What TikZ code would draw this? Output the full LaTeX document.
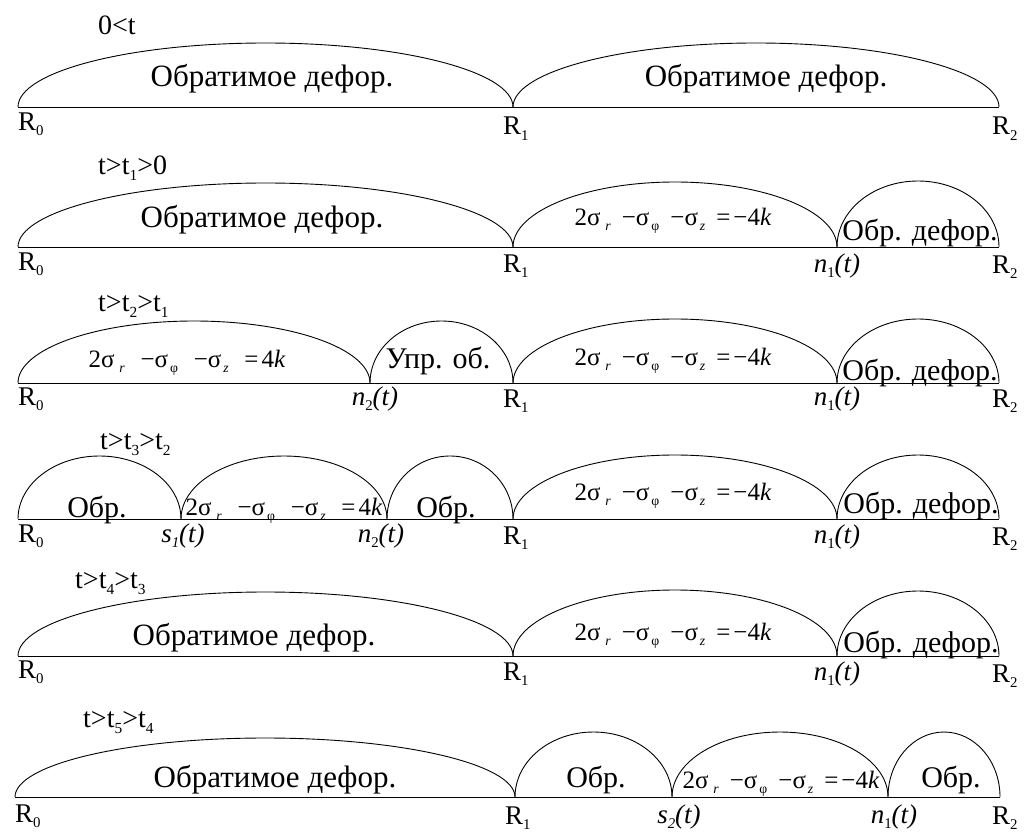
\documentclass[tikz,border=0pt]{standalone}
\usepackage{fontspec}
\setmainfont{Liberation Serif}
\usepackage{graphicx}
\usetikzlibrary{positioning}
\newcommand\fsz[1]{\fontsize{#1}{#1}\selectfont}
\newcommand\lsub[1]{\raisebox{-0.22em}{\scalebox{0.55}{#1}}}
% yield condition with a stretched layout, #1 = right-hand side
\newcommand\yieldeq[1]{\makebox[197pt][s]{2σ\hspace{5pt}\lsub{\textit{r}}\hfill−σ\hspace{2pt}\lsub{φ}\hfill−σ\hspace{2pt}\lsub{\textit{z}}\hfill=\hspace{3pt}#1\textit{k}}}
% half-ellipse zone: #1 left x, #2 right x, #3 axis y, #4 height
\newcommand\dome[4]{%
    \pgfmathsetmacro\rx{(#2-#1)/2}%
    \draw[dome] (#1,#3) arc[start angle=180, end angle=0,
        x radius=\rx pt, y radius=#4pt];}
\tikzset{
    dome/.style  = {line width=0.9pt},
    axis/.style  = {line width=0.9pt},
    zone/.style  = {font=\fsz{31}, inner sep=0pt, anchor=base},
    szone/.style = {font=\fsz{30}, inner sep=0pt, anchor=base},
    eq/.style    = {font=\fsz{25}, inner sep=0pt, anchor=base},
    stage/.style = {font=\fsz{28}, inner sep=0pt, anchor=base west},
    bound/.style = {font=\fsz{27}, inner sep=0pt, anchor=base west},
    front/.style = {font=\fsz{27}\itshape, inner sep=0pt, anchor=base}
}
\def\rowA{107}
\def\rowB{247}
\def\rowC{383}
\def\rowD{519}
\def\rowE{656}
\def\rowF{797}

\begin{document}
\begin{tikzpicture}[x=1pt, y=-1pt]
\useasboundingbox (0,0) rectangle (1035,832);

% 0 < t
\draw[axis] (18,\rowA) coordinate (R0A) -- (999,\rowA) coordinate (R2A);
\coordinate (R1A) at (513,\rowA);
\dome{18}{513}{\rowA}{64}
\dome{513}{999}{\rowA}{64}
\node[stage] (stageA) at (98,35) {0<t};
\node[zone] (zoneA1) at (272,87) {Обратимое дефор.};
\node[zone] (zoneA2) at (766,87) {Обратимое дефор.};
\node[bound] (lR0A) at (18,130) {R\lsub{0}};
\node[bound] (lR1A) at (503,135) {R\lsub{1}};
\node[bound] (lR2A) at (992,135) {R\lsub{2}};

% t > t_1 > 0
\draw[axis] (18,\rowB) coordinate (R0B) -- (999,\rowB) coordinate (R2B);
\coordinate (n1B) at (837,\rowB);
\dome{18}{513}{\rowB}{64}
\dome{513}{837}{\rowB}{65}
\dome{837}{999}{\rowB}{66}
\node[stage] (stageB) at (98,174) {t>t\lsub{1}>0};
\node[zone] (zoneB1) at (262,227) {Обратимое дефор.};
\node[eq] (zoneB2) at (673,225) {\yieldeq{−4}};
\node[szone] (zoneB3) at (920,240) {Обр. дефор.};
\node[bound] (lR0B) at (18,270) {R\lsub{0}};
\node[bound] (lR1B) at (503,272) {R\lsub{1}};
\node[front] (ln1B) at (837,272) {n\lsub{\upshape 1}(t)};
\node[bound] (lR2B) at (992,273) {R\lsub{2}};

% t > t_2 > t_1
\draw[axis] (18,\rowC) coordinate (R0C) -- (999,\rowC) coordinate (R2C);
\dome{18}{370}{\rowC}{62}
\dome{370}{513}{\rowC}{62}
\dome{513}{837}{\rowC}{64}
\dome{837}{999}{\rowC}{64}
\node[stage] (stageC) at (98,311) {t>t\lsub{2}>t\lsub{1}};
\node[eq] (zoneC1) at (187,367) {\yieldeq{4}};
\node[szone] (zoneC2) at (438,368) {Упр. об.};
\node[eq] (zoneC3) at (673,365) {\yieldeq{−4}};
\node[szone] (zoneC4) at (920,380) {Обр. дефор.};
\node[bound] (lR0C) at (18,405) {R\lsub{0}};
\node[front] (ln2C) at (375,405) {n\lsub{\upshape 2}(t)};
\node[bound] (lR1C) at (503,407) {R\lsub{1}};
\node[front] (ln1C) at (837,405) {n\lsub{\upshape 1}(t)};
\node[bound] (lR2C) at (992,407) {R\lsub{2}};

% t > t_3 > t_2
\draw[axis] (18,\rowD) coordinate (R0D) -- (999,\rowD) coordinate (R2D);
\dome{18}{181}{\rowD}{63}
\dome{181}{387}{\rowD}{63}
\dome{387}{513}{\rowD}{63}
\dome{513}{837}{\rowD}{64}
\dome{837}{999}{\rowD}{64}
\node[stage] (stageD) at (100,449) {t>t\lsub{3}>t\lsub{2}};
\node[szone] (zoneD1) at (97,517) {Обр.};
\node[eq] (zoneD2) at (284,515) {\yieldeq{4}};
\node[szone] (zoneD3) at (446,517) {Обр.};
\node[eq] (zoneD4) at (673,500) {\yieldeq{−4}};
\node[szone] (zoneD5) at (921,513) {Обр. дефор.};
\node[bound] (lR0D) at (18,542) {R\lsub{0}};
\node[front] (ls1D) at (183,542) {s\lsub{1}(t)};
\node[front] (ln2D) at (381,542) {n\lsub{\upshape 2}(t)};
\node[bound] (lR1D) at (503,544) {R\lsub{1}};
\node[front] (ln1D) at (837,543) {n\lsub{\upshape 1}(t)};
\node[bound] (lR2D) at (992,545) {R\lsub{2}};

% t > t_4 > t_3
\draw[axis] (18,\rowE) coordinate (R0E) -- (999,\rowE) coordinate (R2E);
\dome{18}{513}{\rowE}{64}
\dome{513}{837}{\rowE}{66}
\dome{837}{999}{\rowE}{65}
\node[stage] (stageE) at (75,588) {t>t\lsub{4}>t\lsub{3}};
\node[zone] (zoneE1) at (254,645) {Обратимое дефор.};
\node[eq] (zoneE2) at (673,640) {\yieldeq{−4}};
\node[szone] (zoneE3) at (921,652) {Обр. дефор.};
\node[bound] (lR0E) at (18,678) {R\lsub{0}};
\node[bound] (lR1E) at (503,680) {R\lsub{1}};
\node[front] (ln1E) at (837,680) {n\lsub{\upshape 1}(t)};
\node[bound] (lR2E) at (992,682) {R\lsub{2}};

% t > t_5 > t_4
\draw[axis] (15,\rowF) coordinate (R0F) -- (1000,\rowF) coordinate (R2F);
\dome{15}{515}{\rowF}{59}
\dome{515}{672}{\rowF}{65}
\dome{672}{888}{\rowF}{65}
\dome{888}{1000}{\rowF}{65}
\node[stage] (stageF) at (83,727) {t>t\lsub{5}>t\lsub{4}};
\node[zone] (zoneF1) at (275,787) {Обратимое дефор.};
\node[szone] (zoneF2) at (596,787) {Обр.};
\node[eq] (zoneF3) at (781,788) {\yieldeq{−4}};
\node[szone] (zoneF4) at (951,787) {Обр.};
\node[bound] (lR0F) at (15,822) {R\lsub{0}};
\node[bound] (lR1F) at (505,824) {R\lsub{1}};
\node[front] (ls2F) at (679,823) {s\lsub{2}(t)};
\node[front] (ln1F) at (894,823) {n\lsub{\upshape 1}(t)};
\node[bound] (lR2F) at (992,824) {R\lsub{2}};

\end{tikzpicture}
\end{document}
